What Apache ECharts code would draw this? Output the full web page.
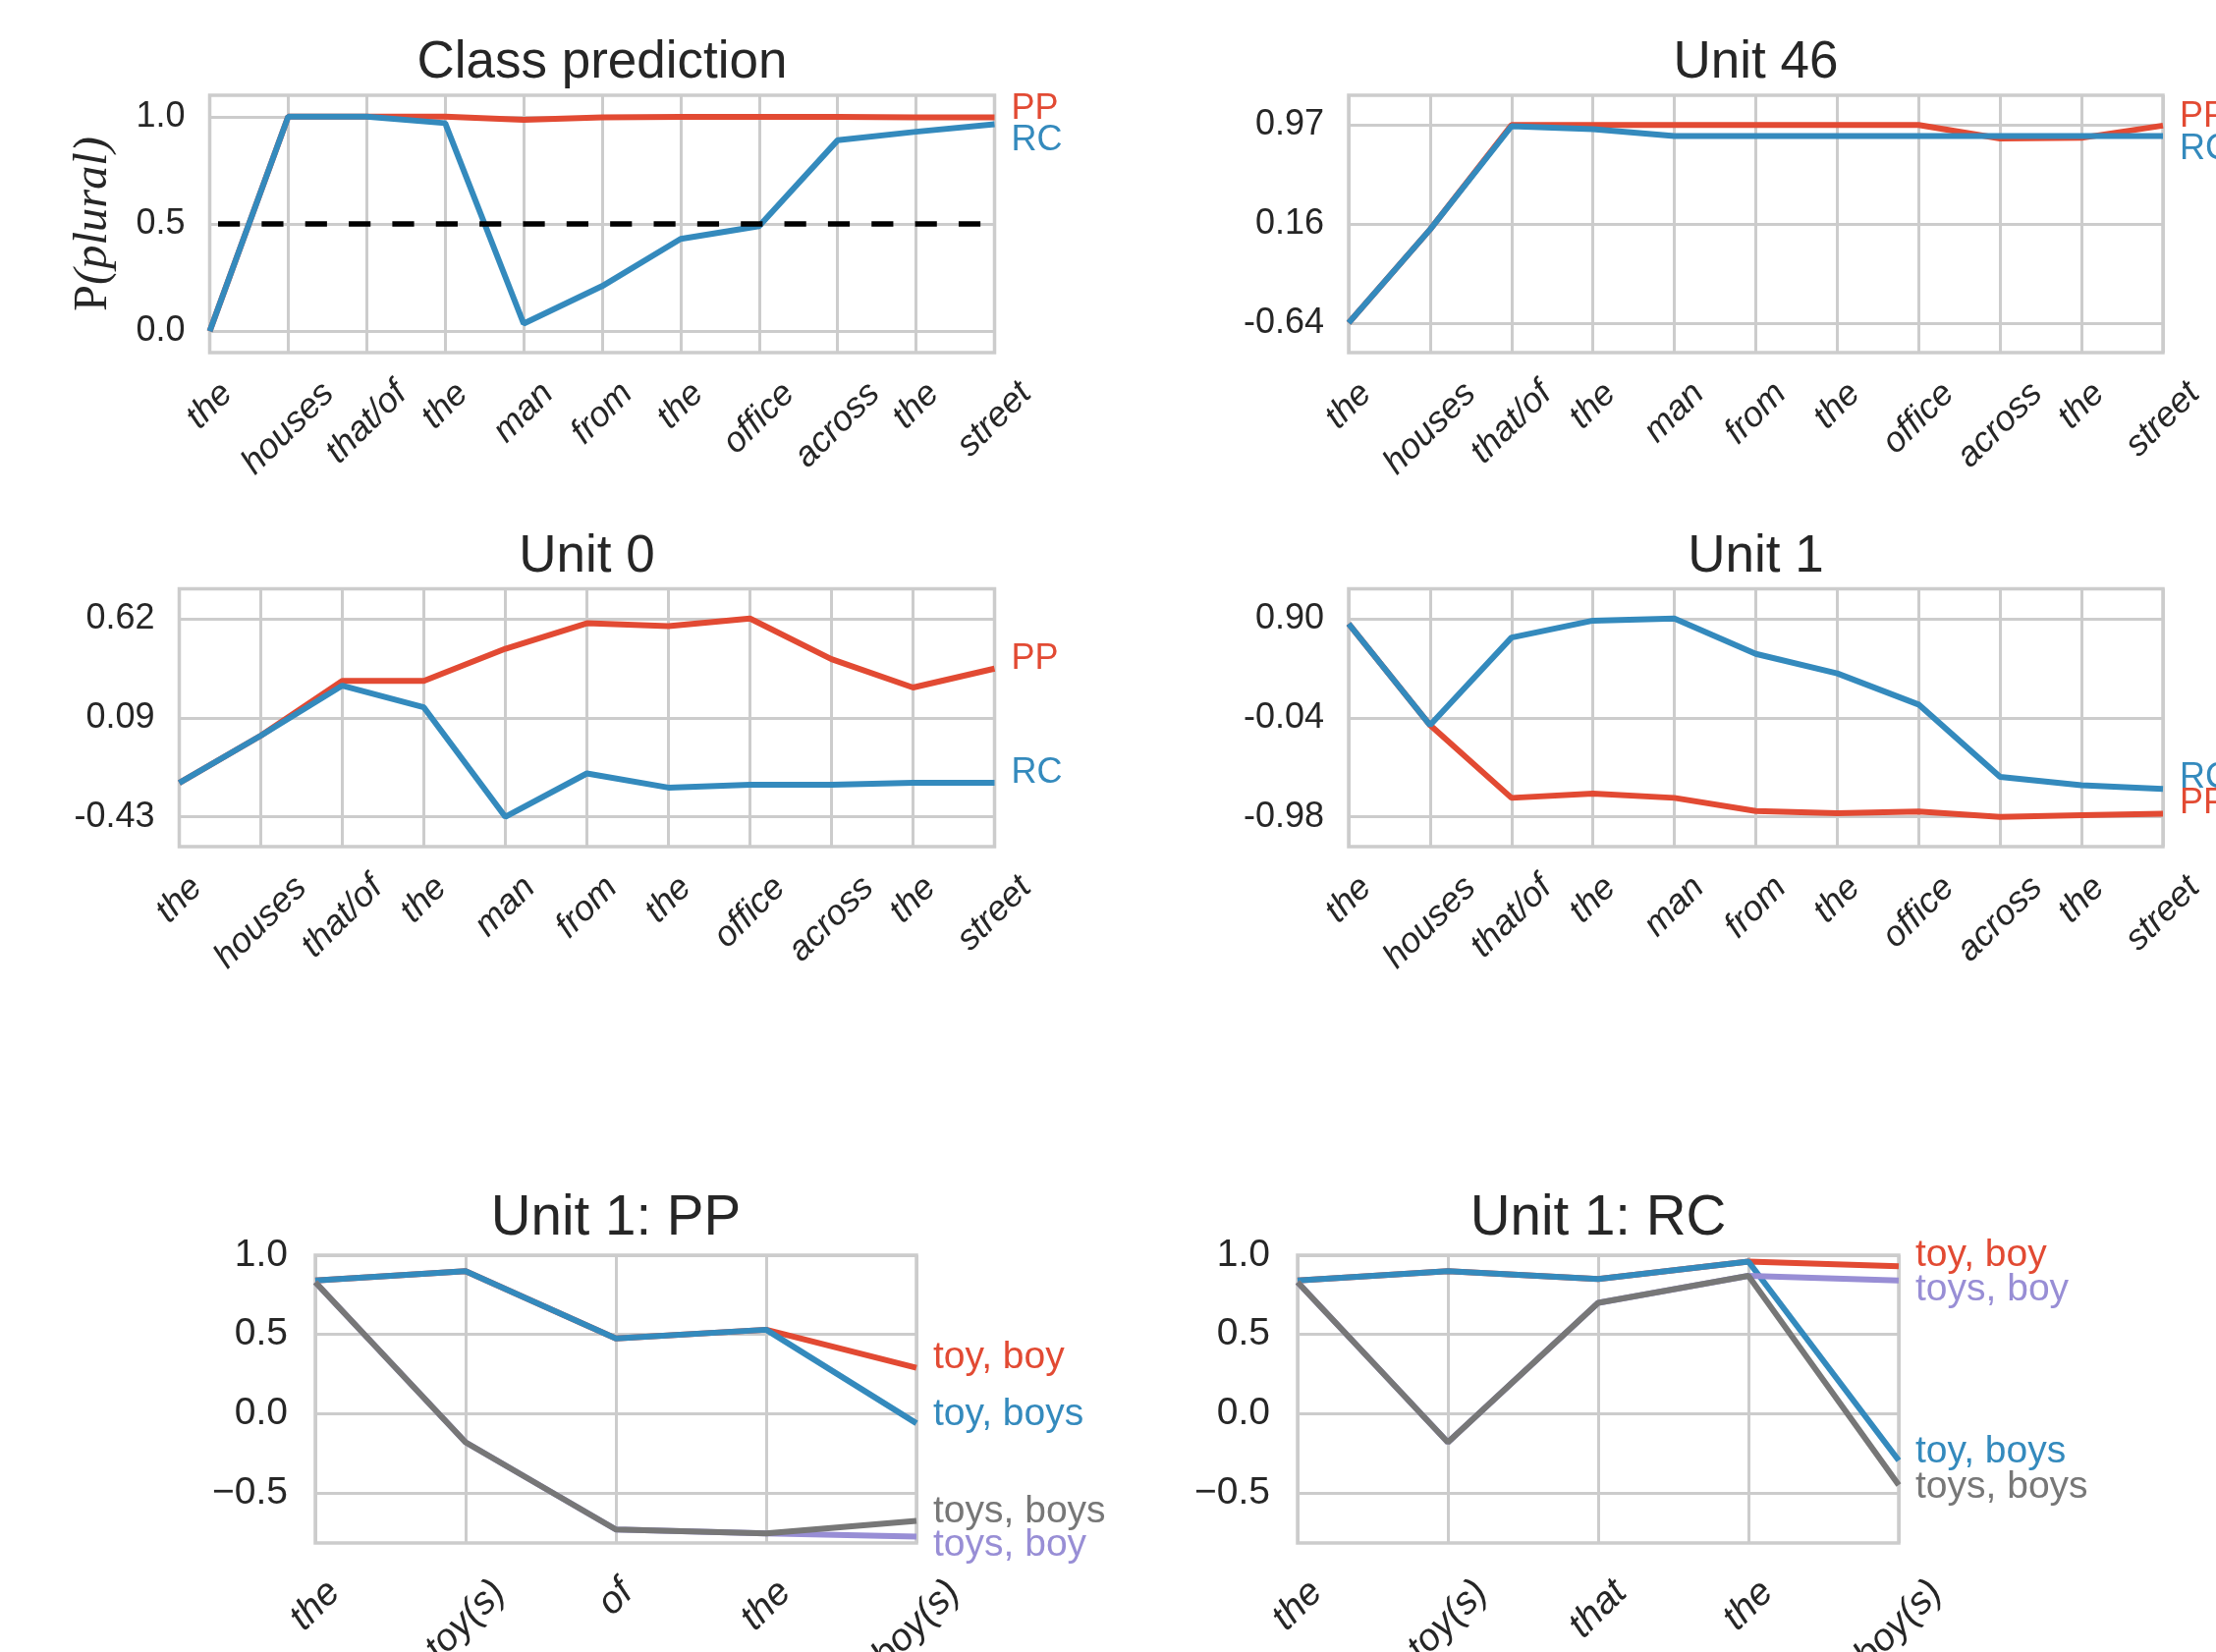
<!DOCTYPE html>
<html>
<head>
<meta charset="utf-8">
<script src="https://cdn.jsdelivr.net/npm/echarts@6/dist/echarts.min.js"></script>
<style>
  html, body { margin: 0; padding: 0; background: #ffffff; }
  #chart { width: 2256px; height: 1682px; }
</style>
</head>
<body>
<div id="chart"></div>
<script>
// ---- tokens on the x axes ----
const sentenceTokens = ['the', 'houses', 'that/of', 'the', 'man', 'from', 'the', 'office', 'across', 'the', 'street'];
const ppTokens = ['the', 'toy(s)', 'of', 'the', 'boy(s)'];
const rcTokens = ['the', 'toy(s)', 'that', 'the', 'boy(s)'];

// ---- Class prediction: P(plural) ----
const classPP = [0.00, 1.00, 1.00, 1.00, 0.985, 0.997, 0.999, 0.999, 0.999, 0.997, 0.997];
const classRC = [0.00, 1.00, 1.00, 0.97, 0.035, 0.21, 0.43, 0.49, 0.89, 0.93, 0.965];
const threshold = 0.5;
const classTicks = [0.0, 0.5, 1.0];
const classTickLabels = ['0.0', '0.5', '1.0'];

// ---- Unit 46 activations ----
const unit46PP = [-0.64, 0.12, 0.97, 0.97, 0.97, 0.97, 0.97, 0.97, 0.86, 0.865, 0.965];
const unit46RC = [-0.64, 0.12, 0.96, 0.935, 0.88, 0.88, 0.88, 0.88, 0.88, 0.88, 0.88];
const unit46Ticks = [-0.64, 0.165, 0.97];
const unit46TickLabels = ['-0.64', '0.16', '0.97'];

// ---- Unit 0 activations ----
const unit0PP = [-0.25, 0.00, 0.29, 0.29, 0.46, 0.595, 0.58, 0.62, 0.405, 0.255, 0.355];
const unit0RC = [-0.25, 0.00, 0.265, 0.15, -0.43, -0.20, -0.275, -0.26, -0.26, -0.25, -0.25];
const unit0Ticks = [-0.43, 0.095, 0.62];
const unit0TickLabels = ['-0.43', '0.09', '0.62'];

// ---- Unit 1 activations ----
const unit1PP = [0.85, -0.11, -0.80, -0.76, -0.80, -0.925, -0.945, -0.93, -0.98, -0.965, -0.95];
const unit1RC = [0.85, -0.11, 0.72, 0.88, 0.90, 0.565, 0.38, 0.085, -0.60, -0.68, -0.715];
const unit1Ticks = [-0.98, -0.04, 0.90];
const unit1TickLabels = ['-0.98', '-0.04', '0.90'];

// ---- Unit 1 on the agreement sentences ----
const agreeTicks = [-0.5, 0.0, 0.5, 1.0];
const agreeTickLabels = ['\u22120.5', '0.0', '0.5', '1.0'];
const ppToyBoy = [0.84, 0.90, 0.475, 0.53, 0.29];
const ppToyBoys = [0.84, 0.90, 0.475, 0.53, -0.06];
const ppToysBoy = [0.83, -0.18, -0.73, -0.755, -0.775];
const ppToysBoys = [0.83, -0.18, -0.73, -0.755, -0.675];
const rcToyBoy = [0.84, 0.90, 0.85, 0.96, 0.93];
const rcToyBoys = [0.84, 0.90, 0.85, 0.96, -0.295];
const rcToysBoy = [0.83, -0.18, 0.70, 0.87, 0.84];
const rcToysBoys = [0.83, -0.18, 0.70, 0.87, -0.45];

// ---- styling ----
const INK = '#262626';
const GRID = '#cccccc';
const RED = '#E24A33', BLUE = '#348ABD', PURPLE = '#988ED5', GRAY = '#777777';
const SANS = '"Liberation Sans", Arial, sans-serif';
const SERIF = '"Liberation Serif", "Times New Roman", serif';

// margin above/below the plotted range for the activation panels
function padded(ticks, frac) {
  const lo = ticks[0], hi = ticks[ticks.length - 1], r = hi - lo;
  return [lo - frac * r, hi + frac * r];
}

const panels = [
  { title: 'Class prediction', rect: [213.5, 97, 799, 262], range: [-0.1, 1.1],
    ticks: classTicks, tickLabels: classTickLabels, cats: sentenceTokens,
    fs: 36, titleFs: 53, titleGap: 59, xMargin: 11, yMargin: 25, ylabel: true, threshold: true,
    series: [
      { name: 'PP', data: classPP, color: RED, dy: -8 },
      { name: 'RC', data: classRC, color: BLUE, dy: 17 } ] },
  { title: 'Unit 46', rect: [1373, 97, 829, 262], range: padded(unit46Ticks, 0.15),
    ticks: unit46Ticks, tickLabels: unit46TickLabels, cats: sentenceTokens,
    fs: 36, titleFs: 53, titleGap: 59, xMargin: 11, yMargin: 25,
    series: [
      { name: 'PP', data: unit46PP, color: RED, dy: -9 },
      { name: 'RC', data: unit46RC, color: BLUE, dy: 14 } ] },
  { title: 'Unit 0', rect: [182.5, 599.5, 830, 262.5], range: padded(unit0Ticks, 0.15),
    ticks: unit0Ticks, tickLabels: unit0TickLabels, cats: sentenceTokens,
    fs: 36, titleFs: 53, titleGap: 59, xMargin: 11, yMargin: 25,
    series: [
      { name: 'PP', data: unit0PP, color: RED, dy: -10 },
      { name: 'RC', data: unit0RC, color: BLUE, dy: -10 } ] },
  { title: 'Unit 1', rect: [1373, 599.5, 829, 262.5], range: padded(unit1Ticks, 0.15),
    ticks: unit1Ticks, tickLabels: unit1TickLabels, cats: sentenceTokens,
    fs: 36, titleFs: 53, titleGap: 59, xMargin: 11, yMargin: 25,
    series: [
      { name: 'PP', data: unit1PP, color: RED, dy: -10 },
      { name: 'RC', data: unit1RC, color: BLUE, dy: -11 } ] },
  { title: 'Unit 1: PP', rect: [321, 1278, 612, 293], range: [-0.815, 1.0],
    ticks: agreeTicks, tickLabels: agreeTickLabels, cats: ppTokens,
    fs: 39, titleFs: 56.5, titleGap: 65, xMargin: 17, yMargin: 28,
    series: [
      { name: 'toy, boy', data: ppToyBoy, color: RED, dy: -10 },
      { name: 'toy, boys', data: ppToyBoys, color: BLUE, dy: -9 },
      { name: 'toys, boy', data: ppToysBoy, color: PURPLE, dy: 9 },
      { name: 'toys, boys', data: ppToysBoys, color: GRAY, dy: -9 } ] },
  { title: 'Unit 1: RC', rect: [1321, 1278, 612, 293], range: [-0.815, 1.0],
    ticks: agreeTicks, tickLabels: agreeTickLabels, cats: rcTokens,
    fs: 39, titleFs: 56.5, titleGap: 65, xMargin: 17, yMargin: 28,
    series: [
      { name: 'toy, boy', data: rcToyBoy, color: RED, dy: -11 },
      { name: 'toy, boys', data: rcToyBoys, color: BLUE, dy: -9 },
      { name: 'toys, boy', data: rcToysBoy, color: PURPLE, dy: 9 },
      { name: 'toys, boys', data: rcToysBoys, color: GRAY, dy: 2 } ] }
];

// text measuring, used to centre the rotated token labels under their ticks
const measureCtx = document.createElement('canvas').getContext('2d');
function textWidth(text, font) {
  measureCtx.font = font;
  return measureCtx.measureText(text).width;
}

// Per-token label style: the rotated label box is shifted so that its
// centre sits under the tick and its upper corner stays at a fixed depth.
function tokenLabelStyle(text, fs) {
  const w = textWidth(text, `italic ${fs}px ${SANS}`);
  return {
    align: 'center', verticalAlign: 'top', lineHeight: fs,
    padding: [w / 4, w / 2 + fs, 0, 0]
  };
}

const option = {
  animation: false,
  backgroundColor: '#ffffff',
  textStyle: { fontFamily: SANS },
  title: [], grid: [], xAxis: [], yAxis: [], series: []
};

panels.forEach((p, i) => {
  const [left, top, width, height] = p.rect;

  option.title.push({
    text: p.title,
    left: left + width / 2,
    top: top - p.titleGap,
    textAlign: 'center',
    padding: 0,
    textStyle: { fontFamily: SANS, fontSize: p.titleFs, fontWeight: 'normal', color: INK }
  });

  option.grid.push({
    left: left, top: top, width: width, height: height,
    containLabel: false,
    outerBoundsMode: 'none',
    show: true, borderColor: GRID, borderWidth: 3.5, backgroundColor: 'transparent'
  });

  option.xAxis.push({
    type: 'category', gridIndex: i, boundaryGap: false,
    data: p.cats.map(t => ({ value: t, textStyle: tokenLabelStyle(t, p.fs) })),
    axisLine: { show: false },
    axisTick: { show: false },
    splitLine: { show: true, interval: 0, lineStyle: { color: GRID, width: 3 } },
    axisLabel: {
      interval: 0, rotate: 45, align: 'center', verticalAlign: 'top',
      margin: p.xMargin, fontFamily: SANS, fontStyle: 'italic', fontSize: p.fs, color: INK
    }
  });

  const yAxis = {
    type: 'value', gridIndex: i, min: p.range[0], max: p.range[1],
    axisLine: { show: false },
    axisTick: { show: false, customValues: p.ticks },
    splitLine: { show: true, lineStyle: { color: GRID, width: 3 } },
    axisLabel: {
      customValues: p.ticks,
      margin: p.yMargin, fontFamily: SANS, fontSize: p.fs, color: INK,
      formatter: v => {
        const k = p.ticks.findIndex(t => Math.abs(t - v) < 1e-6);
        return k >= 0 ? p.tickLabels[k] : '';
      }
    }
  };
  if (p.ylabel) {
    Object.assign(yAxis, {
      name: '{p|P}{q|(plural)}',
      nameLocation: 'middle', nameRotate: 90, nameGap: 118,
      nameTextStyle: {
        align: 'center', verticalAlign: 'middle',
        rich: {
          p: { fontFamily: SERIF, fontSize: 48.5, color: INK },
          q: { fontFamily: SERIF, fontStyle: 'italic', fontSize: 48.5, color: INK }
        }
      }
    });
  }
  option.yAxis.push(yAxis);

  p.series.forEach((s, j) => {
    const ser = {
      type: 'line', name: s.name, xAxisIndex: i, yAxisIndex: i,
      data: s.data, symbol: 'none', silent: true, z: 3 + j,
      lineStyle: { color: s.color, width: 6 },
      itemStyle: { color: s.color },
      emphasis: { disabled: true },
      endLabel: {
        show: true, formatter: s.name, color: s.color,
        fontFamily: SANS, fontSize: p.fs, distance: 17, offset: [0, s.dy]
      }
    };
    if (p.threshold && j === 0) {
      ser.markLine = {
        silent: true, symbol: ['none', 'none'], label: { show: false },
        lineStyle: { color: '#000000', width: 5.5, type: [22.2, 22.15], dashOffset: 35.85 },
        data: [{ yAxis: threshold }]
      };
    }
    option.series.push(ser);
  });
});

const chart = echarts.init(document.getElementById('chart'), null, { renderer: 'canvas' });
chart.setOption(option);
</script>
</body>
</html>
